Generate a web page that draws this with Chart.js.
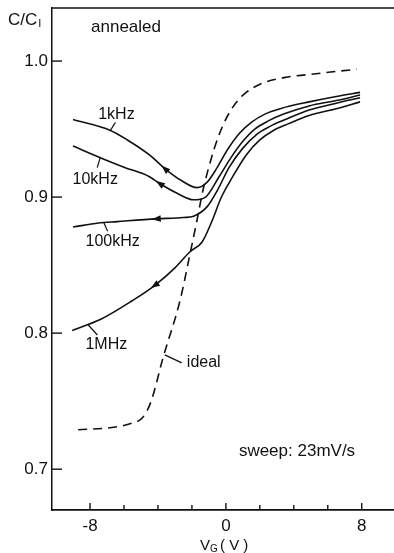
<!DOCTYPE html>
<html>
<head>
<meta charset="utf-8">
<script src="https://cdn.jsdelivr.net/npm/chart.js@4/dist/chart.umd.min.js"></script>
<style>
  html, body { margin: 0; padding: 0; background: #fff; }
  #wrap { width: 394px; height: 553px; }
</style>
</head>
<body>
<div id="wrap"><canvas id="myChart" width="394" height="553"></canvas></div>
<script>
// gate voltage (V) and C/Ci
const v1k   = [-9.0, -6.8, -5.8, -4.5, -3.6, -2.6, -1.7, -1.1, -0.5, 0.1, 0.8, 1.5, 2.3, 3.2, 4.9, 6.5, 7.9];
const c1k   = [0.957, 0.949, 0.942, 0.931, 0.921, 0.912, 0.907, 0.911, 0.922, 0.935, 0.947, 0.955, 0.961, 0.965, 0.970, 0.974, 0.977];
const v10k  = [-9.0, -7.4, -6.0, -4.5, -3.9, -2.9, -1.9, -1.2, -0.4, 0.3, 1.0, 1.7, 2.5, 3.4, 4.9, 6.5, 7.9];
const c10k  = [0.9375, 0.929, 0.922, 0.915, 0.910, 0.903, 0.898, 0.900, 0.915, 0.929, 0.941, 0.950, 0.956, 0.961, 0.967, 0.971, 0.975];
const v100k = [-9.0, -7.5, -6.4, -4.1, -2.5, -1.9, -1.1, -0.5, 0.2, 1.0, 1.8, 2.6, 3.5, 4.9, 6.5, 7.9];
const c100k = [0.878, 0.881, 0.882, 0.884, 0.885, 0.886, 0.893, 0.905, 0.922, 0.936, 0.946, 0.952, 0.957, 0.964, 0.969, 0.973];
const v1M   = [-9.05, -7.4, -5.5, -4.2, -3.0, -2.1, -1.4, -0.8, -0.3, 0.4, 1.2, 2.0, 2.8, 3.7, 4.9, 6.5, 7.9];
const c1M   = [0.802, 0.810, 0.824, 0.835, 0.848, 0.860, 0.867, 0.883, 0.899, 0.915, 0.931, 0.942, 0.949, 0.954, 0.960, 0.965, 0.970];
const vIdeal = [-8.7, -6.5, -5.5, -4.9, -4.4, -3.7, -2.7, -2.1, -1.7, -1.35, -0.7, -0.2, 0.25, 0.7, 1.2, 2.2, 3.5, 4.8, 7.7];
const cIdeal = [0.729, 0.731, 0.734, 0.738, 0.750, 0.782, 0.824, 0.859, 0.883, 0.905, 0.935, 0.952, 0.963, 0.971, 0.977, 0.984, 0.988, 0.990, 0.994];

const xTickLabels = [-8, 0, 8];
const xMinorTicks = [-8, -6, -4, -2, 0, 2, 4, 6, 8];
const yTickLabels = [0.7, 0.8, 0.9, 1.0];

const FONT = "'Liberation Sans', Arial, sans-serif";
const ink = "#111";

const pts = (xs, ys) => xs.map((x, i) => ({ x: x, y: ys[i] }));

function line(label, xs, ys, dashed) {
    return {
        label: label,
        data: pts(xs, ys),
        borderColor: ink,
        borderWidth: 1.6,
        borderDash: dashed ? [9, 6] : [],
        pointRadius: 0,
        fill: false,
        cubicInterpolationMode: "monotone"
    };
}

// which data point of each curve carries the sweep arrow
const arrowIndex = { "1kHz": 4, "10kHz": 4, "100kHz": 3, "1MHz": 3 };

// curve labels: anchor on the curve (data), leader end and text centre as pixel offsets
const curveNotes = [
    { text: "1kHz",   v: -6.8, c: 0.949, lead: [5, -8],  txt: [6, -16] },
    { text: "10kHz",  v: -7.4, c: 0.929, lead: [-3, 10], txt: [-5, 22] },
    { text: "100kHz", v: -7.2, c: 0.8815, lead: [4, 9],  txt: [9, 19] },
    { text: "1MHz",   v: -8.1, c: 0.806, lead: [9, 10],  txt: [18, 20] },
    { text: "ideal",  v: -3.6, c: 0.784, lead: [17, 8],  txt: [39, 8] }
];

const decor = {
    id: "decor",
    afterDraw(chart) {
        const ctx = chart.ctx;
        const a = chart.chartArea;
        const xs = chart.scales.x, ys = chart.scales.y;
        ctx.save();
        ctx.strokeStyle = ink;
        ctx.fillStyle = ink;
        ctx.setLineDash([]);

        // top frame line
        ctx.lineWidth = 1.5;
        ctx.beginPath();
        ctx.moveTo(a.left, a.top);
        ctx.lineTo(a.right, a.top);
        ctx.stroke();

        // inward ticks
        ctx.lineWidth = 1.4;
        yTickLabels.forEach(v => {
            const y = ys.getPixelForValue(v);
            ctx.beginPath();
            ctx.moveTo(a.left, y);
            ctx.lineTo(a.left + 10, y);
            ctx.stroke();
        });
        xMinorTicks.forEach(v => {
            const x = xs.getPixelForValue(v);
            const len = xTickLabels.includes(v) ? 7 : 5;
            ctx.beginPath();
            ctx.moveTo(x, a.bottom);
            ctx.lineTo(x, a.bottom - len);
            ctx.stroke();
        });

        // sweep arrows
        chart.data.datasets.forEach((ds, di) => {
            const idx = arrowIndex[ds.label];
            if (idx === undefined) return;
            const els = chart.getDatasetMeta(di).data;
            const p = els[idx], q = els[idx - 1];
            const ang = Math.atan2(q.y - p.y, q.x - p.x);
            const L = 9, W = 3.2;
            ctx.beginPath();
            ctx.moveTo(p.x + Math.cos(ang) * L / 2, p.y + Math.sin(ang) * L / 2);
            ctx.lineTo(p.x - Math.cos(ang) * L / 2 - Math.sin(ang) * W, p.y - Math.sin(ang) * L / 2 + Math.cos(ang) * W);
            ctx.lineTo(p.x - Math.cos(ang) * L / 2 + Math.sin(ang) * W, p.y - Math.sin(ang) * L / 2 - Math.cos(ang) * W);
            ctx.closePath();
            ctx.fill();
        });

        // curve labels with leader lines
        ctx.font = "16px " + FONT;
        ctx.textAlign = "center";
        ctx.textBaseline = "middle";
        ctx.lineWidth = 1.2;
        curveNotes.forEach(n => {
            const x = xs.getPixelForValue(n.v), y = ys.getPixelForValue(n.c);
            ctx.beginPath();
            ctx.moveTo(x, y);
            ctx.lineTo(x + n.lead[0], y + n.lead[1]);
            ctx.stroke();
            ctx.fillText(n.text, x + n.txt[0], y + n.txt[1]);
        });

        // free texts
        ctx.font = "17px " + FONT;
        ctx.fillText("annealed", 126, 27);
        ctx.fillText("sweep: 23mV/s", 297, 451);

        // axis titles with subscripts
        ctx.textAlign = "left";
        ctx.font = "17px " + FONT;
        ctx.fillText("C/C", 8, 20);
        let w = ctx.measureText("C/C").width;
        ctx.font = "11px " + FONT;
        ctx.fillText("I", 8 + w + 1, 24);

        ctx.font = "15px " + FONT;
        ctx.fillText("V", 200, 546);
        w = ctx.measureText("V").width;
        ctx.font = "10px " + FONT;
        ctx.fillText("G", 200 + w, 549);
        ctx.font = "15px " + FONT;
        ctx.fillText("( V )", 220, 546);

        ctx.restore();
    }
};

const ctx = document.getElementById("myChart");
new Chart(ctx, {
    type: "line",
    data: {
        datasets: [
            line("1kHz", v1k, c1k, false),
            line("10kHz", v10k, c10k, false),
            line("100kHz", v100k, c100k, false),
            line("1MHz", v1M, c1M, false),
            line("ideal", vIdeal, cIdeal, true)
        ]
    },
    options: {
        responsive: false,
        animation: false,
        layout: { padding: { top: 8, left: 0, right: 0, bottom: 0 } },
        plugins: { legend: { display: false }, tooltip: { enabled: false } },
        scales: {
            x: {
                type: "linear",
                min: -10.24,
                max: 9.9,
                grid: { display: false, drawTicks: false },
                border: { display: true, color: ink, width: 1.8 },
                afterBuildTicks: s => { s.ticks = xTickLabels.map(v => ({ value: v })); },
                afterFit: s => { s.height = 43; s.paddingLeft = 0; s.paddingRight = 0; },
                ticks: {
                    padding: 6,
                    color: ink,
                    font: { family: FONT, size: 17 },
                    callback: v => String(v)
                }
            },
            y: {
                type: "linear",
                min: 0.670,
                max: 1.039,
                grid: { display: false, drawTicks: false },
                border: { display: true, color: ink, width: 1.5 },
                afterBuildTicks: s => { s.ticks = yTickLabels.map(v => ({ value: v })); },
                afterFit: s => { s.width = 52; s.paddingTop = 0; s.paddingBottom = 0; },
                ticks: {
                    padding: 4,
                    color: ink,
                    font: { family: FONT, size: 17 },
                    callback: v => Number(v).toFixed(1)
                }
            }
        }
    },
    plugins: [decor]
});
</script>
</body>
</html>
